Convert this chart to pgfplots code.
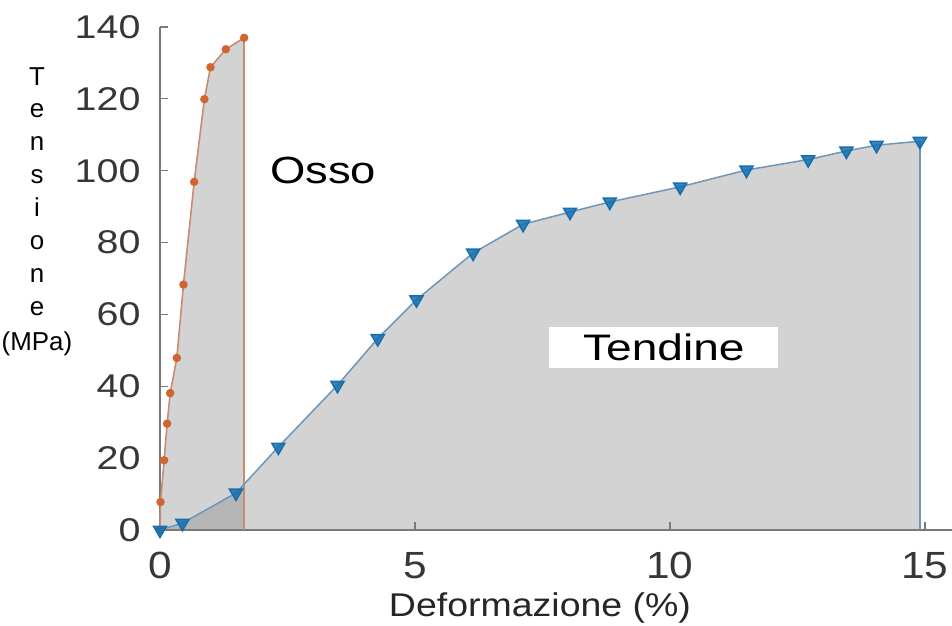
\documentclass[border=0pt]{standalone}
\usepackage{pgfplots}
\pgfplotsset{compat=1.18}
\usepackage{fontspec}
\setmainfont{Liberation Sans}
\definecolor{ossoOr}{RGB}{210,100,50}
\definecolor{ossoLine}{RGB}{200,140,115}
\definecolor{tendBl}{RGB}{20,110,175}
\definecolor{tendLine}{RGB}{110,150,185}
\definecolor{axgray}{RGB}{120,120,120}
\definecolor{tickgray}{RGB}{55,55,55}
\begin{document}
\begin{tikzpicture}
\begin{axis}[
  scale only axis,
  width=792bp, height=503bp,
  xmin=0, xmax=15.53, ymin=0, ymax=140,
  axis x line*=bottom, axis y line*=left,
  axis line style={draw=axgray, line width=1.6bp, -},
  tick align=inside,
  major tick length=8bp,
  tick style={draw=axgray, line width=1.2bp},
  xtick={0,5,10,15},
  ytick={0,20,...,140},
  /pgf/number format/assume math mode=true,
  xticklabel={\scalebox{1.12}[1]{\pgfmathprintnumber{\tick}}},
  yticklabel={\scalebox{1.2}[1]{\pgfmathprintnumber{\tick}}},
  xticklabel style={font=\fontsize{38}{44}\selectfont, text=tickgray, yshift=-19bp},
  yticklabel style={font=\fontsize{33}{40}\selectfont, text=tickgray, xshift=-16bp},
  clip=false,
]
% Osso fill
\addplot[draw=none, fill=black!50, fill opacity=0.35] coordinates {
(0,0) (0.01,7.8) (0.08,19.4) (0.14,29.6) (0.20,38.1) (0.33,47.9) (0.46,68.3)
(0.67,96.9) (0.87,119.9) (0.99,128.8) (1.29,133.8) (1.65,137.0) (1.65,0)} \closedcycle;
% Tendine fill
\addplot[draw=none, fill=black!50, fill opacity=0.35] coordinates {
(0,0) (0.44,1.9) (1.49,10.3) (2.32,23.1) (3.48,40.3) (4.27,53.3) (5.03,64.1)
(6.14,77.1) (7.12,85.1) (8.04,88.5) (8.82,91.3) (10.2,95.5) (11.5,100.2)
(12.71,103.1) (13.46,105.5) (14.05,107.1) (14.9,108.2) (14.9,0)} \closedcycle;
% Osso edges
\addplot[ossoLine, line width=1.6bp] coordinates {(1.65,0) (1.65,137.0)};
\addplot[ossoLine, line width=1.6bp, mark=*, mark size=3.4bp,
  mark options={fill=ossoOr, draw=ossoOr}] coordinates {
(0,0) (0.01,7.8) (0.08,19.4) (0.14,29.6) (0.20,38.1) (0.33,47.9) (0.46,68.3)
(0.67,96.9) (0.87,119.9) (0.99,128.8) (1.29,133.8) (1.65,137.0)};
% Tendine edges
\addplot[tendLine, line width=1.5bp] coordinates {(14.9,0) (14.9,108.2)};
\addplot[tendLine, line width=1.5bp, mark=triangle*, mark size=7.5bp,
  mark options={fill=tendBl, draw=tendBl, rotate=180, fill opacity=0.85}] coordinates {
(0,0) (0.44,1.9) (1.49,10.3) (2.32,23.1) (3.48,40.3) (4.27,53.3) (5.03,64.1)
(6.14,77.1) (7.12,85.1) (8.04,88.5) (8.82,91.3) (10.2,95.5) (11.5,100.2)
(12.71,103.1) (13.46,105.5) (14.05,107.1) (14.9,108.2)};
\node[font=\fontsize{38}{44}\selectfont] at (axis cs:3.2,100.1) {\scalebox{1.2}[1]{Osso}};
\node[font=\fontsize{37}{44}\selectfont, fill=white, minimum width=229bp, minimum height=41bp, inner sep=0pt]
  at (axis cs:9.88,50.8) {\scalebox{1.25}[1]{Tendine}};
\end{axis}
\node[anchor=north, align=center, inner sep=0pt, font=\fontsize{26}{33}\selectfont]
  at ([xshift=-123bp, yshift=-40bp]current axis.north west)
  {T\\e\\n\\s\\i\\o\\n\\e\\[2bp](MPa)};
\node[font=\fontsize{33}{40}\selectfont, text=black!85]
  at ([xshift=380bp, yshift=-78bp]current axis.south west) {\scalebox{1.14}[1]{Deformazione (\%)}};
\pgfresetboundingbox
\path ([xshift=-160bp, yshift=-96bp]current axis.south west) rectangle ([yshift=27bp]current axis.north east);
\end{tikzpicture}
\end{document}
